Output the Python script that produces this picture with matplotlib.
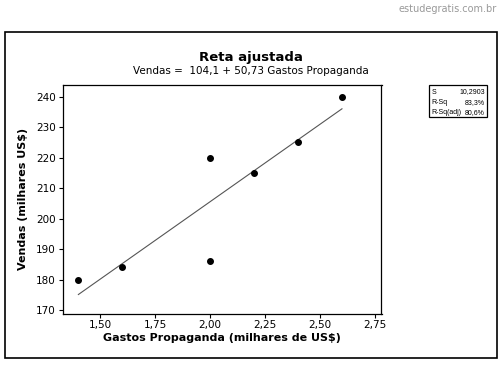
import numpy as np
import matplotlib.pyplot as plt
from matplotlib.patches import Rectangle

# dados
gastos = [1.4, 1.6, 2.0, 2.0, 2.2, 2.4, 2.6]
vendas = [180, 184, 220, 186, 215, 225, 240]
intercepto = 104.1
inclinacao = 50.73
xticks = [1.50, 1.75, 2.00, 2.25, 2.50, 2.75]
yticks = [170, 180, 190, 200, 210, 220, 230, 240]
stats_nomes = ['S', 'R-Sq', 'R-Sq(adj)']
stats_valores = ['10,2903', '83,3%', '80,6%']

W, H = 502, 365
fig = plt.figure(figsize=(W / 100, H / 100), dpi=100)
plt.rcParams['font.family'] = ['DejaVu Sans']

def fx(px):
    return px / W

def fy(py):
    return 1 - py / H

# moldura externa
fig.patches.append(Rectangle((fx(5), fy(358)), fx(497) - fx(5), fy(32) - fy(358),
                             transform=fig.transFigure, fill=False, edgecolor='black', linewidth=1.2))

ax = fig.add_axes([fx(63), fy(313.5), fx(381.5) - fx(63), fy(85) - fy(313.5)])
ax.scatter(gastos, vendas, s=16, color='black', zorder=3)
xl = np.array([min(gastos), max(gastos)])
ax.plot(xl, intercepto + inclinacao * xl, color='#555555', linewidth=0.8)

ax.set_xlim(1.33, 2.78)
ax.set_ylim(168.9, 243.8)
ax.set_xticks(xticks)
ax.set_xticklabels([f'{t:.2f}'.replace('.', ',') for t in xticks])
ax.set_yticks(yticks)
ax.tick_params(direction='out', length=3, width=0.8, labelsize=7.5, colors='black', pad=2)
for s in ax.spines.values():
    s.set_linewidth(0.9)

ax.set_xlabel('Gastos Propaganda (milhares de US$)', fontsize=8, fontweight='bold', labelpad=2)
ax.set_ylabel('Vendas (milhares US$)', fontsize=8, fontweight='bold', labelpad=6)

fig.text(fx(251), fy(57), 'Reta ajustada', ha='center', va='center', fontsize=9.5, fontweight='bold')
fig.text(fx(251), fy(71), 'Vendas =  104,1 + 50,73 Gastos Propaganda', ha='center', va='center', fontsize=7.5)
fig.text(fx(497), fy(9), 'estudegratis.com.br', ha='right', va='center', fontsize=7, color='#999999')

# caixa de estatisticas
fig.patches.append(Rectangle((fx(429), fy(117)), fx(487) - fx(429), fy(85) - fy(117),
                             transform=fig.transFigure, fill=False, edgecolor='black', linewidth=0.9))
for i, (n, v) in enumerate(zip(stats_nomes, stats_valores)):
    y = fy(92 + i * 10.5)
    fig.text(fx(431.5), y, n, ha='left', va='center', fontsize=5, family='Liberation Sans')
    fig.text(fx(485), y, v, ha='right', va='center', fontsize=5, family='Liberation Sans')

fig.savefig('out.png', dpi=100)
